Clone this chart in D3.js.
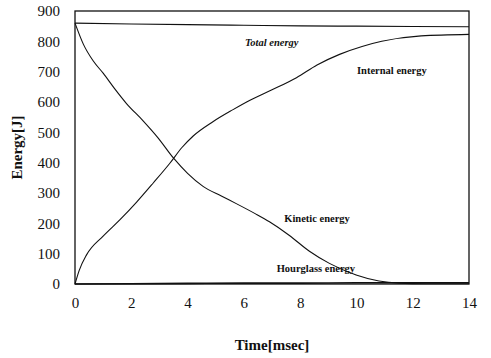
<!DOCTYPE html>
<html>
<head>
<meta charset="utf-8">
<script src="https://cdn.jsdelivr.net/npm/d3@7"></script>
<style>
  body { margin: 0; background: #fff; }
  svg, svg text { font-family: "Liberation Serif", "Times New Roman", serif; }
</style>
</head>
<body>
<div class="chart"></div>
<script>
// time [msec] and energies [J]
const totalTime = [0, 2, 4, 6, 8, 10, 12, 14];
const totalEnergy = [860, 857, 855, 853, 851, 850, 849, 848];

const internalTime = [0, 0.15, 0.41, 1.0, 1.6, 2.19, 2.78, 3.37, 3.8, 4.2, 4.9, 5.6, 6.2, 7.0, 7.87, 8.6, 9.4, 10.2, 10.9, 12.3, 14];
const internalEnergy = [0, 45, 96, 158, 212, 270, 333, 398, 450, 488, 535, 574, 605, 640, 680, 722, 757, 783, 800, 818, 823];

const kineticTime = [0, 0.3, 0.65, 1.0, 1.4, 1.83, 2.42, 2.95, 3.51, 4.0, 4.55, 5.2, 5.73, 6.4, 6.91, 7.62, 8.33, 9.04, 9.99, 10.8, 11.5, 12.5, 14];
const kineticEnergy = [860, 790, 735, 695, 645, 595, 538, 482, 414, 365, 322, 290, 265, 232, 205, 160, 108, 68, 30, 10, 3, 1, 1];

const hourglassTime = [0, 2, 4, 6, 8, 10, 12, 14];
const hourglassEnergy = [0, 1, 2, 3, 3, 4, 4, 4];

const xTicks = [0, 2, 4, 6, 8, 10, 12, 14];
const yTicks = [0, 100, 200, 300, 400, 500, 600, 700, 800, 900];

const width = 491;
const height = 358;
const margin = { top: 11, right: 22, bottom: 74, left: 75 };
const serif = '"Liberation Serif", "Times New Roman", serif';

const svg = d3
  .select(".chart")
  .append("svg")
  .attr("width", width)
  .attr("height", height);

const x = d3
  .scaleLinear()
  .domain([0, 14])
  .range([margin.left, width - margin.right]);

const y = d3
  .scaleLinear()
  .domain([0, 900])
  .range([height - margin.bottom, margin.top]);

// axes, labels only
const xAxis = svg
  .append("g")
  .attr("transform", `translate(0, ${height - margin.bottom + 7})`)
  .call(d3.axisBottom(x).tickValues(xTicks).tickSize(0).tickFormat(d3.format("d")));
xAxis.select(".domain").remove();
xAxis.attr("font-family", serif).attr("font-size", 15);
xAxis.selectAll("text").attr("fill", "#111").attr("dy", "0.9em");

const yAxis = svg
  .append("g")
  .attr("transform", `translate(${margin.left - 12}, 0)`)
  .call(d3.axisLeft(y).tickValues(yTicks).tickSize(0).tickFormat(d3.format("d")));
yAxis.select(".domain").remove();
yAxis.attr("font-family", serif).attr("font-size", 15);
yAxis.selectAll("text").attr("fill", "#111");

// frame
svg
  .append("rect")
  .attr("x", x(0))
  .attr("y", y(900))
  .attr("width", x(14) - x(0))
  .attr("height", y(0) - y(900))
  .attr("fill", "none")
  .attr("stroke", "#111")
  .attr("stroke-width", 1.3);

const line = d3
  .line()
  .x((d) => x(d[0]))
  .y((d) => y(d[1]))
  .curve(d3.curveMonotoneX);

const series = [
  [totalTime, totalEnergy, 1.1],
  [internalTime, internalEnergy, 1.1],
  [kineticTime, kineticEnergy, 1.1],
  [hourglassTime, hourglassEnergy, 1.6],
];

series.forEach(([t, e, w]) => {
  svg
    .append("path")
    .datum(d3.zip(t, e))
    .attr("fill", "none")
    .attr("stroke", "#111")
    .attr("stroke-width", w)
    .attr("d", line);
});

// in-plot labels
const notes = [
  { text: "Total energy", t: 6.99, e: 794, italic: true },
  { text: "Internal energy", t: 11.26, e: 700, italic: false },
  { text: "Kinetic energy", t: 8.6, e: 211, italic: false },
  { text: "Hourglass energy", t: 8.56, e: 48, italic: false },
];

svg
  .selectAll(".note")
  .data(notes)
  .join("text")
  .attr("class", "note")
  .attr("x", (d) => x(d.t))
  .attr("y", (d) => y(d.e))
  .attr("text-anchor", "middle")
  .attr("dominant-baseline", "middle")
  .attr("font-size", "10.5px")
  .attr("font-weight", "bold")
  .attr("font-style", (d) => (d.italic ? "italic" : "normal"))
  .attr("fill", "#111")
  .text((d) => d.text);

// axis titles
svg
  .append("text")
  .attr("x", (x(0) + x(14)) / 2)
  .attr("y", 350)
  .attr("text-anchor", "middle")
  .attr("font-size", "15px")
  .attr("font-weight", "bold")
  .attr("fill", "#111")
  .text("Time[msec]");

svg
  .append("text")
  .attr("transform", `translate(22, ${y(450)}) rotate(-90)`)
  .attr("text-anchor", "middle")
  .attr("font-size", "15px")
  .attr("font-weight", "bold")
  .attr("fill", "#111")
  .text("Energy[J]");
</script>
</body>
</html>
